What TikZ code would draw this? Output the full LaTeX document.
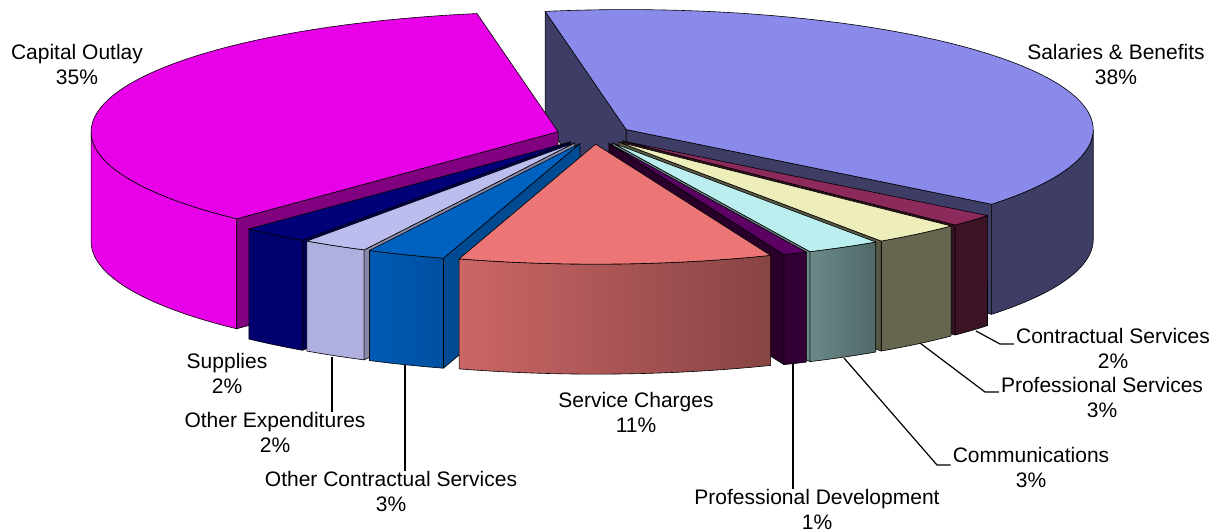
\documentclass[tikz,border=0pt]{standalone}
\usepackage{fontspec}
\setmainfont{Liberation Sans}
\definecolor{salTop}{RGB}{138,138,234}
\definecolor{salSide}{RGB}{61,61,102}
\definecolor{capTop}{RGB}{232,0,232}
\definecolor{capFace}{RGB}{128,0,128}
\definecolor{conTop}{RGB}{140,42,92}
\definecolor{conSide}{RGB}{60,20,38}
\definecolor{proTop}{RGB}{238,238,187}
\definecolor{proSide}{RGB}{102,102,80}
\definecolor{comTop}{RGB}{187,238,238}
\definecolor{comSideL}{RGB}{106,138,136}
\definecolor{comSideR}{RGB}{80,104,104}
\definecolor{devTop}{RGB}{92,0,100}
\definecolor{devSide}{RGB}{50,0,52}
\definecolor{serTop}{RGB}{236,118,118}
\definecolor{serSideL}{RGB}{204,102,102}
\definecolor{serSideR}{RGB}{136,68,68}
\definecolor{ocsTop}{RGB}{0,98,192}
\definecolor{ocsSideL}{RGB}{0,90,180}
\definecolor{ocsSideR}{RGB}{0,80,160}
\definecolor{ocsFace}{RGB}{0,74,146}
\definecolor{oexTop}{RGB}{188,188,238}
\definecolor{oexSide}{RGB}{176,176,224}
\definecolor{oexFace}{RGB}{136,136,168}
\definecolor{supTop}{RGB}{0,0,120}
\definecolor{supSide}{RGB}{0,0,110}
\definecolor{supFace}{RGB}{0,0,80}
% #1 start angle, #2 end angle, #3 top colour, #4 outer wall, #5 start face, #6 end face
\newcommand{\pieslice}[6]{%
  \pgfmathsetmacro\slmid{(#1+#2)/2}
  \pgfmathsetmacro\ax{594+37.5*cos(\slmid)}
  \pgfmathsetmacro\ay{134.5+9.64*sin(\slmid)}
  \pgfmathsetmacro\wa{max(#1,0)}
  \pgfmathsetmacro\wb{min(#2,180)}
  \ifdim\wa pt<\wb pt
    \path[wall,#4] plot[domain=\wa:\wb,samples=60] ({\ax+\rx*cos(\x)},{\ay+\ry*sin(\x)})
      -- plot[domain=\wb:\wa,samples=60] ({\ax+\rx*cos(\x)},{\ay+\hgt+\ry*sin(\x)}) -- cycle;
  \fi
  \pgfmathsetmacro\ca{cos(#1)}
  \ifdim\ca pt<0pt
    \path[wall,#5] (\ax,\ay) -- ++({\rx*cos(#1)},{\ry*sin(#1)}) -- ++(0,\hgt) -- (\ax,{\ay+\hgt}) -- cycle;
  \fi
  \pgfmathsetmacro\cb{cos(#2)}
  \ifdim\cb pt>0pt
    \path[wall,#6] (\ax,\ay) -- ++({\rx*cos(#2)},{\ry*sin(#2)}) -- ++(0,\hgt) -- (\ax,{\ay+\hgt}) -- cycle;
  \fi
  \path[wall,fill=#3] (\ax,\ay) -- plot[domain=#1:#2,samples=60] ({\ax+\rx*cos(\x)},{\ay+\ry*sin(\x)}) -- cycle;
}
\begin{document}
\begin{tikzpicture}[x=1pt, y=-1pt, line join=round,
  wall/.style={draw=black, line width=0.6pt},
  lbl/.style={font=\fontsize{21}{25}\selectfont, align=center, inner sep=0pt},
  lead/.style={draw=black, line width=1.2pt}]
\useasboundingbox (0,0) rectangle (1215,532);
\def\rx{467}\def\ry{120}\def\hgt{110}
\pieslice{-100}{38.5}{salTop}{fill=salSide}{fill=salSide}{fill=salSide}
\pieslice{133.5}{260}{capTop}{fill=capTop}{fill=capFace}{fill=capFace}
\pieslice{38.5}{44.5}{conTop}{fill=conSide}{fill=conSide}{fill=conSide!85!black}
\pieslice{44.5}{55.7}{proTop}{fill=proSide}{fill=proSide}{fill=proSide!85!black}
\pieslice{55.7}{65}{comTop}{left color=comSideL,right color=comSideR}{fill=comSideL}{fill=comSideL}
\pieslice{65}{68}{devTop}{fill=devSide}{fill=devSide}{fill=devSide!80!black}
\pieslice{125}{133.5}{supTop}{fill=supSide}{fill=supFace}{fill=supFace}
\pieslice{116.8}{125}{oexTop}{fill=oexSide}{fill=oexFace}{fill=oexFace}
\pieslice{107}{116.8}{ocsTop}{left color=ocsSideL,right color=ocsSideR}{fill=ocsFace}{fill=ocsFace}
\pieslice{68}{107}{serTop}{left color=serSideL,right color=serSideR}{fill=serSideL}{fill=serSideR}

\node[lbl] (lcap) at (77,64) {Capital Outlay\\35\%};
\node[lbl] (lsal) at (1116,64) {Salaries \& Benefits\\38\%};
\node[lbl] (lsup) at (227,373) {Supplies\\2\%};
\node[lbl] (loex) at (275,432) {Other Expenditures\\2\%};
\node[lbl] (locs) at (391,491) {Other Contractual Services\\3\%};
\node[lbl] (lser) at (636,412) {Service Charges\\11\%};
\node[lbl] (ldev) at (817,509) {Professional Development\\1\%};
\node[lbl] (lcom) at (1031,467) {Communications\\3\%};
\node[lbl] (lpro) at (1102,397) {Professional Services\\3\%};
\node[lbl] (lcon) at (1113,348) {Contractual Services\\2\%};

\coordinate (toex) at (332,357);
\coordinate (tocs) at (405,365);
\coordinate (tdev) at (793,363);
\coordinate (tcom) at (844,358); \coordinate (bcom) at (937,465);
\coordinate (tpro) at (920,343); \coordinate (bpro) at (985,392);
\coordinate (tcon) at (976,331); \coordinate (bcon) at (1000,344);
\draw[lead] (toex) -- (loex.north -| toex);
\draw[lead] (tocs) -- (locs.north -| tocs);
\draw[lead] (tdev) -- (ldev.north -| tdev);
\draw[lead] (tcom) -- (bcom) -- ([xshift=-2pt]bcom -| lcom.west);
\draw[lead] (tpro) -- (bpro) -- ([xshift=-2pt]bpro -| lpro.west);
\draw[lead] (tcon) -- (bcon) -- ([xshift=-2pt]bcon -| lcon.west);
\end{tikzpicture}
\end{document}
